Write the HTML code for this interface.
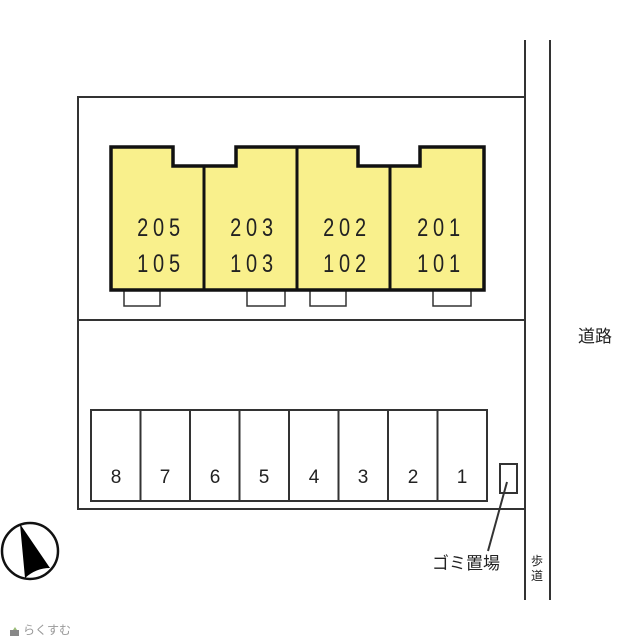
<!DOCTYPE html>
<html><head><meta charset="utf-8"><style>
body{margin:0;background:#fff;}
svg{display:block;}
text{font-family:"Liberation Sans","Noto Sans CJK JP",sans-serif;fill:#222;}
</style></head><body>
<svg width="640" height="640" viewBox="0 0 640 640" xmlns="http://www.w3.org/2000/svg">
<g fill="none" stroke="#333" stroke-width="2">
<line x1="525" y1="40" x2="525" y2="600"/>
<line x1="550" y1="40" x2="550" y2="600"/>
<polyline points="525,97 78,97 78,509 525,509"/>
<line x1="78" y1="320" x2="525" y2="320"/>
<rect x="91" y="410" width="396" height="91"/>
<line x1="140.5" y1="410" x2="140.5" y2="501"/>
<line x1="190" y1="410" x2="190" y2="501"/>
<line x1="239.5" y1="410" x2="239.5" y2="501"/>
<line x1="289" y1="410" x2="289" y2="501"/>
<line x1="338.5" y1="410" x2="338.5" y2="501"/>
<line x1="388" y1="410" x2="388" y2="501"/>
<line x1="437.5" y1="410" x2="437.5" y2="501"/>
<rect x="500" y="464" width="17" height="29"/>
<line x1="507" y1="482" x2="488" y2="551"/>
<rect x="124" y="290" width="36" height="16" stroke-width="1.5"/>
<rect x="247" y="290" width="38" height="16" stroke-width="1.5"/>
<rect x="310" y="290" width="36" height="16" stroke-width="1.5"/>
<rect x="433" y="290" width="38" height="16" stroke-width="1.5"/>
</g>
<path d="M111,147 H173 V166 H236 V147 H358 V166 H420 V147 H484 V290 H111 Z" fill="#f9f08c" stroke="#111" stroke-width="3.5"/>
<g stroke="#111" stroke-width="3">
<line x1="204" y1="166" x2="204" y2="290"/>
<line x1="297" y1="147" x2="297" y2="290"/>
<line x1="390" y1="166" x2="390" y2="290"/>
</g>
<g font-size="25" text-anchor="middle" letter-spacing="6">
<g transform="translate(161,0) scale(0.8,1)"><text x="0" y="236">205</text><text x="0" y="272">105</text></g>
<g transform="translate(254,0) scale(0.8,1)"><text x="0" y="236">203</text><text x="0" y="272">103</text></g>
<g transform="translate(347,0) scale(0.8,1)"><text x="0" y="236">202</text><text x="0" y="272">102</text></g>
<g transform="translate(441,0) scale(0.8,1)"><text x="0" y="236">201</text><text x="0" y="272">101</text></g>
</g>
<g font-size="19" text-anchor="middle">
<text x="116" y="483">8</text><text x="165" y="483">7</text><text x="215" y="483">6</text><text x="264" y="483">5</text>
<text x="314" y="483">4</text><text x="363" y="483">3</text><text x="413" y="483">2</text><text x="462" y="483">1</text>
</g>
<text x="595" y="342" font-size="17" text-anchor="middle">道路</text>
<text x="466" y="569" font-size="17" text-anchor="middle">ゴミ置場</text>
<text x="537" y="565" font-size="12" text-anchor="middle">歩</text>
<text x="537" y="580" font-size="12" text-anchor="middle">道</text>
<circle cx="30" cy="551" r="28" fill="none" stroke="#111" stroke-width="2.5"/>
<path d="M20,524 L50,568 Q36,568 25,578 Z" fill="#000"/>
<path d="M11,633 l4,-6 4,6 z" fill="#9b7"/><rect x="10" y="630" width="9" height="6" fill="#888"/>
<text x="23" y="634" font-size="12" style="fill:#999">らくすむ</text>
</svg>
</body></html>
